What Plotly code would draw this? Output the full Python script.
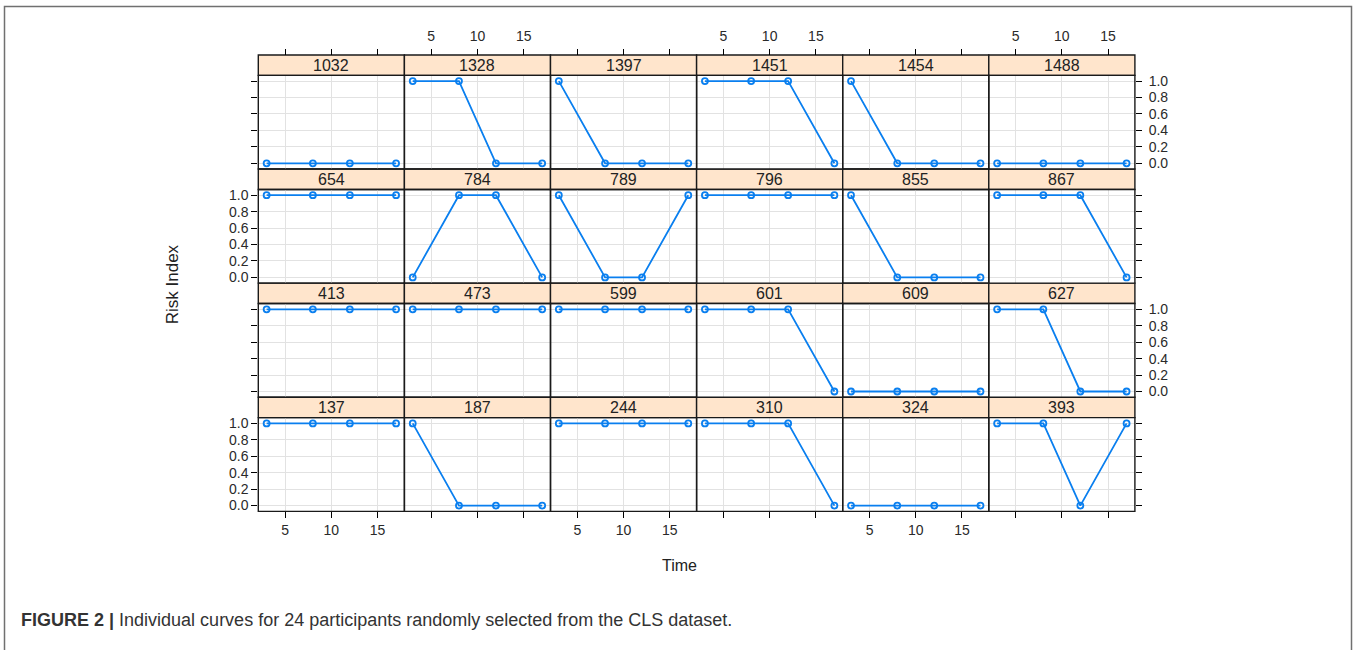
import plotly.graph_objects as go

# ---------------- data ----------------
time_points = [3, 8, 12, 17]

row1_ids = ["1032", "1328", "1397", "1451", "1454", "1488"]
row1_risk = [[0, 0, 0, 0], [1, 1, 0, 0], [1, 0, 0, 0], [1, 1, 1, 0], [1, 0, 0, 0], [0, 0, 0, 0]]

row2_ids = ["654", "784", "789", "796", "855", "867"]
row2_risk = [[1, 1, 1, 1], [0, 1, 1, 0], [1, 0, 0, 1], [1, 1, 1, 1], [1, 0, 0, 0], [1, 1, 1, 0]]

row3_ids = ["413", "473", "599", "601", "609", "627"]
row3_risk = [[1, 1, 1, 1], [1, 1, 1, 1], [1, 1, 1, 1], [1, 1, 1, 0], [0, 0, 0, 0], [1, 1, 0, 0]]

row4_ids = ["137", "187", "244", "310", "324", "393"]
row4_risk = [[1, 1, 1, 1], [1, 0, 0, 0], [1, 1, 1, 1], [1, 1, 1, 0], [0, 0, 0, 0], [1, 1, 0, 1]]

x_ticks = [5, 10, 15]
y_ticks = [0.0, 0.2, 0.4, 0.6, 0.8, 1.0]

# ---------------- layout geometry ----------------
W, H = 1354, 650
COL_LEFT, COL_W = 258.3, 146.1
ROW_TOP, ROW_H, STRIP_H = 53.3, 114.8, 20.5
NCOL, NROW = 6, 4

FONT = "Liberation Sans, Arial, sans-serif"
LINE_COL = "#0a7fef"
STRIP_FILL = "#ffe5cc"
GRID_COL = "#e2e2e2"
TICK_FONT = dict(family=FONT, size=14, color="#2a2a2a")

ids_rows = [row1_ids, row2_ids, row3_ids, row4_ids]
risk_rows = [row1_risk, row2_risk, row3_risk, row4_risk]


def fx(px):
    return px / W


def fy(py):
    return 1 - py / H


fig = go.Figure()
layout = {}
shapes = []
annotations = []

idx = 0
for r in range(NROW):
    for c in range(NCOL):
        idx += 1
        x0 = COL_LEFT + c * COL_W
        x1 = x0 + COL_W
        st = ROW_TOP + r * ROW_H
        pt = st + STRIP_H
        pb = st + ROW_H
        xa = "xaxis" if idx == 1 else f"xaxis{idx}"
        ya = "yaxis" if idx == 1 else f"yaxis{idx}"
        xs = "x" if idx == 1 else f"x{idx}"
        ys = "y" if idx == 1 else f"y{idx}"

        fig.add_trace(go.Scatter(
            x=time_points, y=risk_rows[r][c], xaxis=xs, yaxis=ys,
            mode="lines+markers",
            line=dict(color=LINE_COL, width=1.8),
            marker=dict(symbol="circle-open", size=6, color=LINE_COL, line=dict(width=1.8)),
            showlegend=False, hoverinfo="skip", cliponaxis=False,
        ))

        xaxis = dict(
            domain=[fx(x0), fx(x1)], range=[2.1, 17.9], tickvals=x_ticks,
            showgrid=True, gridcolor=GRID_COL, gridwidth=1, zeroline=False,
            showline=False, tickfont=TICK_FONT, ticklen=6, tickcolor="#000000",
            tickwidth=1.3,
        )
        if r == 0:
            xaxis.update(anchor="free", position=fy(st), side="top", ticks="outside",
                         showticklabels=(c % 2 == 1), ticklabelstandoff=2)
        elif r == NROW - 1:
            xaxis.update(anchor=ys, side="bottom", ticks="outside",
                         showticklabels=(c % 2 == 0))
        else:
            xaxis.update(anchor=ys, ticks="", showticklabels=False)

        yaxis = dict(
            domain=[fy(pb), fy(pt)], range=[-0.07, 1.07], tickvals=y_ticks,
            tickformat=".1f", showgrid=True, gridcolor=GRID_COL, gridwidth=1,
            zeroline=False, showline=False, tickfont=TICK_FONT, ticklen=6,
            tickcolor="#000000", tickwidth=1.3, anchor=xs,
        )
        if c == 0:
            yaxis.update(side="left", ticks="outside", showticklabels=(r % 2 == 1))
        elif c == NCOL - 1:
            yaxis.update(side="right", ticks="outside", showticklabels=(r % 2 == 0),
                         ticklabelstandoff=4)
        else:
            yaxis.update(ticks="", showticklabels=False)

        layout[xa] = xaxis
        layout[ya] = yaxis

        # strip
        shapes.append(dict(type="rect", xref="paper", yref="paper",
                           x0=fx(x0), x1=fx(x1), y0=fy(pt), y1=fy(st),
                           fillcolor=STRIP_FILL, line=dict(color="#1a1a1a", width=1.4),
                           layer="below"))
        # panel border
        shapes.append(dict(type="rect", xref="paper", yref="paper",
                           x0=fx(x0), x1=fx(x1), y0=fy(pb), y1=fy(pt),
                           fillcolor="rgba(0,0,0,0)", line=dict(color="#1a1a1a", width=1.4),
                           layer="above"))
        annotations.append(dict(xref="paper", yref="paper", x=fx((x0 + x1) / 2),
                                y=fy((st + pt) / 2), text=ids_rows[r][c], showarrow=False,
                                font=dict(family=FONT, size=16, color="#222222"),
                                xanchor="center", yanchor="middle"))

# axis titles
annotations.append(dict(xref="paper", yref="paper", x=fx(679), y=fy(567), text="Time",
                        showarrow=False, font=dict(family=FONT, size=16, color="#222222"),
                        xanchor="center", yanchor="middle"))
annotations.append(dict(xref="paper", yref="paper", x=fx(172), y=fy(284), text="Risk Index",
                        textangle=-90, showarrow=False,
                        font=dict(family=FONT, size=17, color="#222222"),
                        xanchor="center", yanchor="middle"))
# caption
annotations.append(dict(xref="paper", yref="paper", x=fx(19), y=fy(622),
                        text="<b>FIGURE 2 |</b> Individual curves for 24 participants randomly selected from the CLS dataset.",
                        showarrow=False, font=dict(family=FONT, size=18, color="#333333"),
                        xanchor="left", yanchor="middle"))
# outer frame
shapes.append(dict(type="rect", xref="paper", yref="paper", x0=fx(4.5), x1=fx(1351.5),
                   y0=fy(660), y1=fy(4.5), line=dict(color="#707070", width=1.5),
                   fillcolor="rgba(0,0,0,0)", layer="below"))

fig.update_layout(
    width=W, height=H, margin=dict(l=0, r=0, t=0, b=0),
    paper_bgcolor="white", plot_bgcolor="white",
    shapes=shapes, annotations=annotations, **layout,
)

fig.write_html("out.html", config={"displayModeBar": False},
               post_script="document.body.style.margin='0';document.body.style.overflow='hidden';")
